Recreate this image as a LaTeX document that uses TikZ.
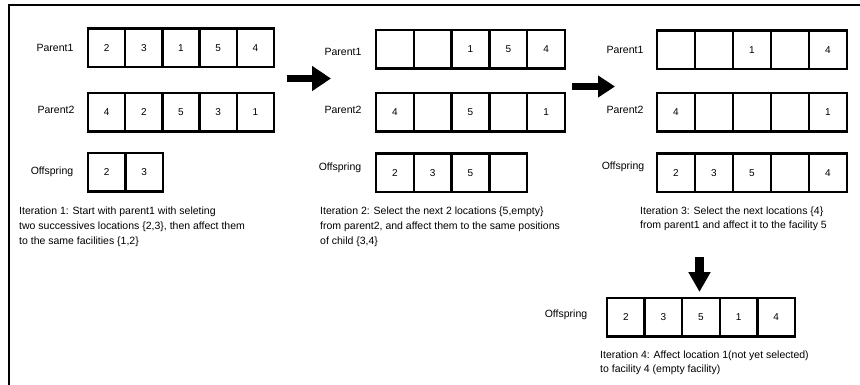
\documentclass[tikz,border=0pt]{standalone}
\usepackage{fontspec}
\setmainfont{Liberation Sans}
\usetikzlibrary{arrows.meta}
\newcommand{\mkrow}[5]{% name, left x, centre y, cell width, values
  \foreach \v [count=\i] in {#5} {
    \node[cellbox, minimum width=#4] (#1-\i) at ({#2+(\i-0.5)*#4}, #3) {\v};
  }}
\begin{document}
\begin{tikzpicture}[x=1pt, y=-1pt,
  cellbox/.style={draw, line width=2.5pt, minimum height=38.5pt, inner sep=0pt,
    font=\fontsize{10}{12}\selectfont},
  lbl/.style={font=\fontsize{10.5}{12}\selectfont, inner sep=0pt},
  note/.style={font=\fontsize{10.5}{15}\selectfont, align=left, anchor=west, inner sep=0pt},
  frame/.style={line width=2.4pt}
]
\useasboundingbox (0,0) rectangle (860,385);
% frame
\draw[frame] (9,386) -- (9,5) -- (861,5);

% panel 1
\node[lbl] (l1a) at (55,48) {Parent1};
\node[lbl] (l2a) at (56,110) {Parent2};
\node[lbl] (l3a) at (52,172) {Offspring};
\mkrow{p1a}{88}{48}{37.2}{2,3,1,5,4}
\mkrow{p2a}{88}{112.5}{37.2}{4,2,5,3,1}
\mkrow{oa}{88}{172.5}{37.5}{2,3}
\node[note] (t1) at (19,227) {Iteration 1: Start with parent1 with seleting\\two successives locations \{2,3\}, then affect them\\to the same facilities \{1,2\}};

% arrow 1
\coordinate (a1s) at (287,78.5);
\coordinate (a1e) at (331,78.5);
\draw[line width=7pt, -{Triangle[length=19pt,width=24pt]}] (a1s) -- (a1e);

% panel 2
\node[lbl] (l1b) at (343,52) {Parent1};
\node[lbl] (l2b) at (343,110) {Parent2};
\node[lbl] (l3b) at (340,168) {Offspring};
\mkrow{p1b}{376}{49.5}{37.8}{{},{},1,5,4}
\mkrow{p2b}{376}{112.5}{37.8}{4,{},5,{},1}
\mkrow{ob}{376}{173}{37.8}{2,3,5,{}}
\node[note] (t2) at (320,227) {Iteration 2: Select the next 2 locations \{5,empty\}\\from parent2, and affect them to the same positions\\of child \{3,4\}};

% arrow 2
\coordinate (a2s) at (572,86.5);
\coordinate (a2e) at (615,86.5);
\draw[line width=7pt, -{Triangle[length=17pt,width=21pt]}] (a2s) -- (a2e);

% panel 3
\node[lbl] (l1c) at (625,50) {Parent1};
\node[lbl] (l2c) at (625,110) {Parent2};
\node[lbl] (l3c) at (623,167) {Offspring};
\mkrow{p1c}{657}{50}{38}{{},{},1,{},4}
\mkrow{p2c}{657}{112.5}{38}{4,{},{},{},1}
\mkrow{oc}{657}{173}{38}{2,3,5,{},4}
\node[note, font=\fontsize{10.5}{14}\selectfont] (t3) at (640,219) {Iteration 3: Select the next locations \{4\}\\from parent1 and affect it to the facility 5};

% down arrow
\coordinate (a3s) at (699.5,257);
\coordinate (a3e) at (699.5,292);
\draw[line width=9pt, -{Triangle[length=20pt,width=21pt]}] (a3s) -- (a3e);

% panel 4
\node[lbl] (l3d) at (566,315) {Offspring};
\mkrow{od}{607}{317}{37.6}{2,3,5,1,4}
\node[note, font=\fontsize{10.5}{14}\selectfont] (t4) at (600,363) {Iteration 4: Affect location 1(not yet selected)\\to facility 4 (empty facility)};
\end{tikzpicture}
\end{document}
